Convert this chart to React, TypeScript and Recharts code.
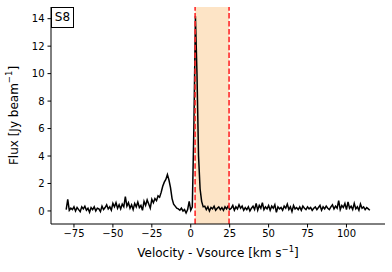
import {
  LineChart,
  Line,
  XAxis,
  YAxis,
  ReferenceArea,
  ReferenceLine,
} from 'recharts';

// spectrum channels, 1 km/s apart starting at -80 km/s
const V_START = -80;
const V_STEP = 1;

const flux: number[] = [
  // -80 .. -71
  0.1, 0.85, 0.05, 0.2, 0.1, 0.3, 0.0, 0.25, 0.1, -0.05,
  // -70 .. -61
  0.3, 0.15, 0.35, 0.05, 0.2, -0.1, 0.25, 0.1, 0.3, 0.0,
  // -60 .. -51
  0.2, 0.15, -0.05, 0.35, 0.1, 0.25, 0.45, 0.15, 0.3, 0.05,
  // -50 .. -41
  0.55, 0.3, 0.6, 0.2, 0.45, 0.15, 0.5, 0.3, 1.05, 0.35,
  // -40 .. -31
  0.6, 0.2, 0.45, 0.1, 0.55, 0.3, 0.65, 0.25, 0.4, 0.05,
  // -30 .. -21
  0.7, 0.4, 0.8, 0.5, 0.2, 0.85, 0.6, 0.9, 0.75, 1.1,
  // -20 .. -11
  1.0, 1.35, 1.8, 2.1, 2.3, 2.65, 2.25, 1.7, 0.9, 0.5,
  // -10 .. -1
  0.35, 0.2, 0.15, 0.05, 0.2, 0.0, 0.1, -0.15, 0.1, 0.7,
  // 0 .. 9
  0.05, 0.3, 6.0, 14.2, 10.0, 4.0, 1.6, 0.7, 0.3, 0.35,
  // 10 .. 19
  0.1, 0.3, 0.0, 0.25, 0.15, 0.35, 0.05, 0.2, 0.3, 0.1,
  // 20 .. 29
  0.25, 0.05, 0.3, 0.15, 0.35, 0.1, 0.2, 0.4, 0.05, 0.3,
  // 30 .. 39
  0.15, 0.45, 0.2, 0.35, 0.05, 0.25, 0.1, 0.3, 0.0, 0.2,
  // 40 .. 49
  0.35, 0.1, 0.55, 0.05, 0.4, 0.2, 0.6, 0.1, 0.3, 0.15,
  // 50 .. 59
  0.4, 0.05, 0.35, 0.2, 0.45, -0.1, 0.3, 0.15, 0.25, 0.05,
  // 60 .. 69
  0.35, 0.2, 0.5, 0.1, 0.3, -0.05, 0.4, 0.15, 0.25, 0.1,
  // 70 .. 79
  0.3, 0.05, 0.35, 0.2, 0.1, 0.3, 0.15, 0.25, 0.05, 0.2,
  // 80 .. 89
  0.3, 0.1, 0.25, 0.4, 0.05, 0.3, 0.15, 0.35, 0.2, 0.1,
  // 90 .. 99
  0.3, 0.45, 0.15, 0.35, 0.2, 0.75, 0.1, 0.4, 0.25, 0.55,
  // 100 .. 109
  0.1, 0.65, 0.2, 0.35, 0.1, 0.55, 0.15, 0.3, 0.05, 0.5,
  // 110 .. 115
  0.2, 0.3, 0.1, 0.25, 0.15, 0.05,
];

const velocity = flux.map((_, i) => V_START + i * V_STEP);

// integration window (km/s)
const windowLo = 2.8;
const windowHi = 24.6;

const xTicks = [-75, -50, -25, 0, 25, 50, 75, 100];
const yTicks = [0, 2, 4, 6, 8, 10, 12, 14];
const xDomain: [number, number] = [-89.75, 124.75];
const yDomain: [number, number] = [-0.95, 14.85];

const sourceName = 'S8';

const FONT = '"DejaVu Sans", sans-serif';

const fmt = (v: number) => String(v).replace('-', '\u2212');

const XLabel = ({ viewBox }: any) => {
  const { x, y, width } = viewBox;
  return (
    <text
      x={x + width / 2}
      y={y + 33}
      textAnchor="middle"
      fontSize={12}
      fontFamily={FONT}
      fill="#000"
    >
      Velocity - Vsource [km s
      <tspan dy={-5} fontSize={8.5}>{'\u22121'}</tspan>
      <tspan dy={5}>]</tspan>
    </text>
  );
};

const YLabel = ({ viewBox }: any) => {
  const { y, height } = viewBox;
  const cx = 14;
  const cy = y + height / 2;
  return (
    <text
      x={cx}
      y={cy}
      transform={`rotate(-90 ${cx} ${cy})`}
      textAnchor="middle"
      dominantBaseline="central"
      fontSize={12}
      fontFamily={FONT}
      fill="#000"
    >
      Flux [Jy beam
      <tspan dy={-5} fontSize={8.5}>{'\u22121'}</tspan>
      <tspan dy={5}>]</tspan>
    </text>
  );
};

export default function App() {
  const data = velocity.map((v, i) => ({ v, f: flux[i] }));
  const tickStyle = { fontSize: 10, fontFamily: FONT, fill: '#000' };

  return (
    <div style={{ position: 'absolute', left: 0, top: 0, width: 392, height: 272, background: '#fff' }}>
      <LineChart
        width={392}
        height={272}
        data={data}
        margin={{ top: 7, right: 7, left: 0, bottom: 0 }}
      >
        <XAxis
          dataKey="v"
          type="number"
          domain={xDomain}
          ticks={xTicks}
          allowDataOverflow
          height={48}
          tickSize={3.5}
          tickMargin={2}
          tick={tickStyle}
          tickFormatter={fmt}
          stroke="#000"
          label={<XLabel />}
        />
        <XAxis
          xAxisId="top"
          dataKey="v"
          type="number"
          orientation="top"
          domain={xDomain}
          allowDataOverflow
          height={0}
          tick={false}
          tickLine={false}
          stroke="#000"
        />
        <YAxis
          type="number"
          domain={yDomain}
          ticks={yTicks}
          allowDataOverflow
          width={51}
          tickSize={3.5}
          tickMargin={3}
          tick={tickStyle}
          tickFormatter={fmt}
          stroke="#000"
          label={<YLabel />}
        />
        <YAxis
          yAxisId="right"
          orientation="right"
          type="number"
          domain={yDomain}
          width={0}
          tick={false}
          tickLine={false}
          stroke="#000"
        />
        <ReferenceArea
          x1={windowLo}
          x2={windowHi}
          y1={yDomain[0]}
          y2={yDomain[1]}
          fill="#fde4c6"
          fillOpacity={1}
          stroke="none"
        />
        <Line
          dataKey="f"
          type="linear"
          stroke="#000"
          strokeWidth={1.5}
          dot={false}
          isAnimationActive={false}
        />
        <ReferenceLine x={windowLo} stroke="#ff2a2a" strokeWidth={1.6} strokeDasharray="5.5 2.4" />
        <ReferenceLine x={windowHi} stroke="#ff2a2a" strokeWidth={1.6} strokeDasharray="5.5 2.4" />
      </LineChart>
      <div
        style={{
          position: 'absolute',
          left: 51,
          top: 7,
          width: 23,
          height: 21,
          boxSizing: 'border-box',
          border: '1px solid #000',
          background: '#fff',
          fontFamily: FONT,
          fontSize: 12,
          lineHeight: '19px',
          textAlign: 'center',
          color: '#000',
        }}
      >
        {sourceName}
      </div>
    </div>
  );
}
